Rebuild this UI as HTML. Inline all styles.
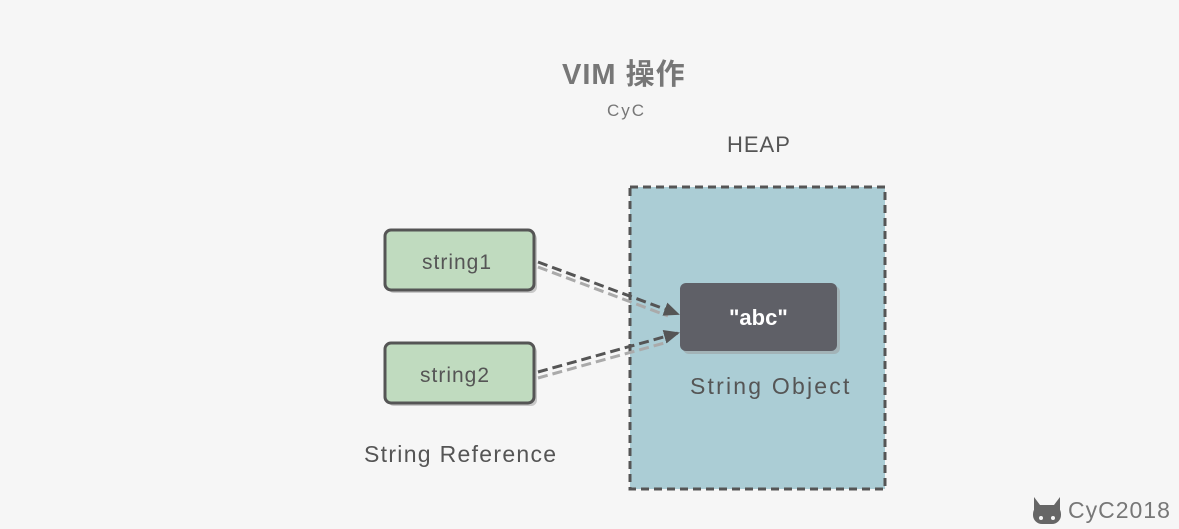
<!DOCTYPE html>
<html><head><style>
body{margin:0;width:1179px;height:529px;background:#f6f6f6;font-family:"Liberation Sans","Noto Sans CJK SC",sans-serif;position:relative;overflow:hidden}
.t{position:absolute;white-space:nowrap}
</style></head><body>
<svg width="1179" height="529" style="position:absolute;left:0;top:0">
<defs><marker id="a" markerWidth="16" markerHeight="16" refX="14" refY="8" orient="auto" markerUnits="userSpaceOnUse"><path d="M0,1 L16,8 L0,15 Z" fill="#555"/></marker></defs>
<rect x="630" y="187" width="255" height="302" fill="#abcdd5" stroke="#555" stroke-width="3" stroke-dasharray="8,5"/>
<rect x="388" y="233" width="149" height="60" rx="6" fill="#999" opacity=".5"/>
<rect x="385" y="230" width="149" height="60" rx="6" fill="#c0dbbf" stroke="#555" stroke-width="3"/>
<rect x="388" y="346" width="149" height="60" rx="6" fill="#999" opacity=".5"/>
<rect x="385" y="343" width="149" height="60" rx="6" fill="#c0dbbf" stroke="#555" stroke-width="3"/>
<rect x="683" y="286" width="157" height="68" rx="6" fill="#999" opacity=".5"/>
<rect x="680" y="283" width="157" height="68" rx="6" fill="#5f6067"/>
<line x1="538" y1="267" x2="668" y2="316" stroke="#aaa" stroke-width="3" stroke-dasharray="10,5"/>
<line x1="538" y1="262" x2="678" y2="314" stroke="#555" stroke-width="3" stroke-dasharray="10,5" marker-end="url(#a)"/>
<line x1="538" y1="378" x2="668" y2="342" stroke="#aaa" stroke-width="3" stroke-dasharray="10,5"/>
<line x1="538" y1="372" x2="678" y2="333" stroke="#555" stroke-width="3" stroke-dasharray="10,5" marker-end="url(#a)"/>
<rect x="1033" y="505" width="28" height="19" rx="9" fill="#666"/>
<path d="M1034,497 l6,8 h14 l6,-8 v14 h-26z" fill="#666"/>
<circle cx="1041" cy="518" r="2" fill="#f6f6f6"/><circle cx="1053" cy="518" r="2" fill="#f6f6f6"/>
</svg>
<div class="t" style="left:562px;top:51px;font-size:29px;font-weight:bold;color:#777;letter-spacing:1px">VIM 操作</div>
<div class="t" style="left:607px;top:101px;font-size:17px;color:#777;letter-spacing:2px">CyC</div>
<div class="t" style="left:727px;top:132px;font-size:22px;color:#555;letter-spacing:1px">HEAP</div>
<div class="t" style="left:422px;top:251px;font-size:21px;color:#555;letter-spacing:1px">string1</div>
<div class="t" style="left:420px;top:364px;font-size:21px;color:#555;letter-spacing:1px">string2</div>
<div class="t" style="left:729px;top:305px;font-size:22px;font-weight:bold;color:#fff">"abc"</div>
<div class="t" style="left:690px;top:373px;font-size:23px;color:#555;letter-spacing:2.2px">String Object</div>
<div class="t" style="left:364px;top:441px;font-size:23px;color:#555;letter-spacing:1.3px">String Reference</div>
<div class="t" style="left:1068px;top:497px;font-size:23px;color:#777;letter-spacing:1px">CyC2018</div>
</body></html>
